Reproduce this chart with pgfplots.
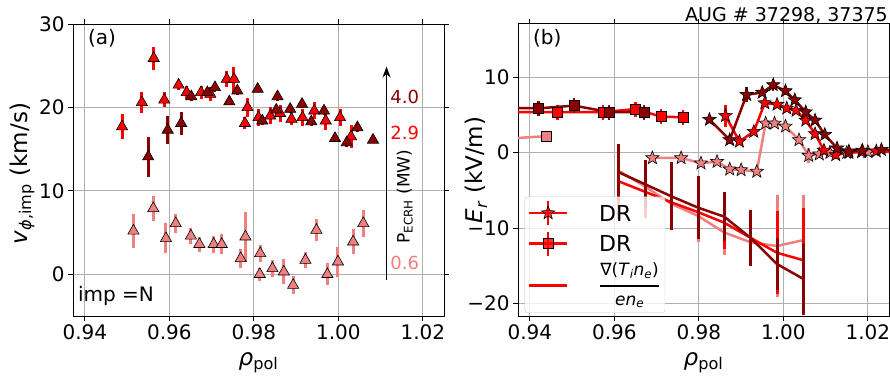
\documentclass[border=0pt]{standalone}
\usepackage{pgfplots}
\pgfplotsset{compat=1.18}
\usepackage{fontspec}
\setmainfont{DejaVu Sans}
\usetikzlibrary{arrows.meta}
\definecolor{dred}{RGB}{139,0,0}
\definecolor{lcor}{RGB}{240,128,128}
\definecolor{gridc}{RGB}{176,176,176}
\newcommand{\fs}[1]{\fontsize{#1bp}{#1bp}\selectfont}
\pgfdeclareplotmark{fstar}{%
  \pgfpathmoveto{\pgfqpointpolar{90}{\pgfplotmarksize}}%
  \pgfpathlineto{\pgfqpointpolar{126}{0.42\pgfplotmarksize}}%
  \pgfpathlineto{\pgfqpointpolar{162}{\pgfplotmarksize}}%
  \pgfpathlineto{\pgfqpointpolar{198}{0.42\pgfplotmarksize}}%
  \pgfpathlineto{\pgfqpointpolar{234}{\pgfplotmarksize}}%
  \pgfpathlineto{\pgfqpointpolar{270}{0.42\pgfplotmarksize}}%
  \pgfpathlineto{\pgfqpointpolar{306}{\pgfplotmarksize}}%
  \pgfpathlineto{\pgfqpointpolar{342}{0.42\pgfplotmarksize}}%
  \pgfpathlineto{\pgfqpointpolar{18}{\pgfplotmarksize}}%
  \pgfpathlineto{\pgfqpointpolar{54}{0.42\pgfplotmarksize}}%
  \pgfpathclose\pgfusepathqfillstroke}
\pgfplotsset{
  base/.style={
    scale only axis, width=371bp, height=292bp,
    xmin=0.9372, xmax=1.025, enlargelimits=false,
    xtick={0.94,0.96,0.98,1.00,1.02},
    xticklabels={0.94,0.96,0.98,1.00,1.02},
    grid=major, major grid style={gridc, line width=0.8bp},
    tick align=outside, major tick length=5bp,
    tick style={black, line width=0.8bp},
    axis line style={line width=1bp},
    ticklabel style={font=\fs{20}},
    every axis x label/.style={at={(axis description cs:0.5,-0.16)}, anchor=center, font=\fs{23}},
    every axis y label/.style={rotate=90, anchor=center, font=\fs{23}},
    xlabel={\textit{ρ}\textsubscript{pol}},
  },
  tri/.style={forget plot, only marks, mark=triangle*, mark size=6.5bp,
    mark options={fill=#1, draw=black, line width=0.6bp},
    error bars/.cd, y dir=both, y explicit, error mark=none,
    error bar style={#1, line width=3bp}},
  lin/.style n args={3}{forget plot, #1, line width=2.5bp, mark=#2,
    mark size=#3, mark options={fill=#1, draw=black, line width=0.6bp, solid},
    error bars/.cd, y dir=both, y explicit, error mark=none,
    error bar style={#1, line width=2.5bp}},
  grad/.style={forget plot, #1, line width=2.5bp, mark=none,
    error bars/.cd, y dir=both, y explicit, error mark=none,
    error bar style={#1, line width=3bp}},
  starleg/.style={legend image code/.code={
    \path[draw=none, fill=none] (0bp,-13bp) rectangle (68bp,13bp);
    \draw[red, line width=2.5bp, fill=none] (0bp,0bp) -- (38bp,0bp);
    \draw[red, line width=2.5bp, fill=none] (19bp,-12bp) -- (19bp,12bp);
    \draw[mark=fstar, mark size=7bp, mark options={fill=red, draw=black, line width=0.6bp}] plot coordinates {(19bp,0bp)};}},
  sqleg/.style={legend image code/.code={
    \path[draw=none, fill=none] (0bp,-13bp) rectangle (68bp,13bp);
    \draw[red, line width=2.5bp, fill=none] (0bp,0bp) -- (38bp,0bp);
    \draw[red, line width=2.5bp, fill=none] (19bp,-12bp) -- (19bp,12bp);
    \draw[mark=square*, mark size=5bp, mark options={fill=red, draw=black, line width=0.6bp}] plot coordinates {(19bp,0bp)};}},
  lineleg/.style={legend image code/.code={
    \path[draw=none, fill=none] (0bp,-13bp) rectangle (68bp,13bp);
    \draw[red, line width=2.5bp, fill=none] (0bp,0bp) -- (38bp,0bp);}},
}
\begin{document}
\begin{tikzpicture}[x=1bp,y=1bp]
\useasboundingbox (0,0) rectangle (890,375);
% ---------------- panel (a)
\begin{axis}[base, at={(73bp,59bp)}, anchor=south west,
  ymin=-5, ymax=30, ytick={0,10,20,30}, yticklabels={0,10,20,30},
  ylabel={\textit{v}\textsubscript{\textit{ϕ},imp} (km/s)},
  ylabel style={at={(axis description cs:-0.137,0.488)}}]
\addplot[tri=lcor] table[x index=0,y index=1,y error index=2] {
0.9515 5.2 2.0
0.9562 7.9 1.5
0.9592 4.3 1.8
0.9615 6.1 1.1
0.9651 4.6 1.0
0.9671 3.6 0.9
0.9705 3.6 1.0
0.9724 3.6 1.2
0.9769 1.9 1.1
0.9780 4.5 3.0
0.9815 2.5 1.0
0.9814 0.0 0.8
0.9844 0.7 1.0
0.9871 0.3 1.5
0.9893 -1.3 1.1
0.9922 1.7 1.0
0.9948 5.3 1.3
0.9974 0.0 1.3
0.9999 1.5 1.8
1.0035 3.9 1.5
1.0059 6.1 1.6
};
\addplot[tri=red] table[x index=0,y index=1,y error index=2] {
0.9488 17.7 1.5
0.9535 20.6 1.3
0.9563 25.9 1.4
0.9588 20.9 0.9
0.9622 22.7 0.6
0.9641 21.8 0.8
0.9675 21.8 0.8
0.9697 21.6 0.8
0.9736 23.4 1.0
0.9753 23.4 1.5
0.9779 18.1 0.7
0.9785 20.0 1.1
0.9811 18.8 1.0
0.9839 19.0 1.0
0.9862 19.3 1.0
0.9889 18.6 0.7
0.9915 18.8 1.0
0.9943 19.6 1.0
0.9970 18.4 1.1
1.0004 18.8 1.0
1.0030 16.5 1.4
};
\addplot[tri=dred] table[x index=0,y index=1,y error index=2] {
0.9550 14.1 2.4
0.9596 17.3 1.7
0.9628 18.1 1.4
0.9652 21.3 0.5
0.9690 21.8 0.5
0.9708 22.4 0.5
0.9742 20.7 0.4
0.9761 22.0 0.5
0.9809 22.2 0.4
0.9820 18.4 0.5
0.9853 19.7 0.5
0.9856 21.3 0.5
0.9886 19.8 0.5
0.9914 20.4 0.5
0.9936 18.3 0.5
0.9966 19.6 0.5
0.9992 16.3 0.5
1.0020 15.8 0.5
1.0045 17.6 0.5
1.0082 16.1 0.4
};
\draw[-{Stealth[length=11bp,width=8bp]}, line width=1.5bp] (axis cs:1.0114,-0.7) -- (axis cs:1.0114,24.9);
\node[dred, font=\fs{18}] at (axis cs:1.0157,21.2) {\fs{18}4.0};
\node[red, font=\fs{18}] at (axis cs:1.0157,17.0) {\fs{18}2.9};
\node[lcor, font=\fs{18}] at (axis cs:1.0157,1.3) {\fs{18}0.6};
\node[rotate=90, font=\fs{17}] at (axis cs:1.0157,9.3) {\fs{17}P\textsubscript{ECRH} (MW)};
\node[anchor=west, font=\fs{20}, inner sep=0] at (rel axis cs:0.04,0.952) {\fs{20}(a)};
\node[anchor=west, font=\fs{20}, inner sep=0] at (rel axis cs:0.013,0.07) {\fs{20}imp =N};
\end{axis}
% ---------------- panel (b)
\begin{axis}[base, at={(518bp,59bp)}, anchor=south west,
  ymin=-21.7, ymax=17.1, ytick={-20,-10,0,10}, yticklabels={−20,−10,0,10},
  ylabel={\textit{E}\raisebox{-0.35ex}{\fs{16}\textit{r}} (kV/m)},
  ylabel style={at={(axis description cs:-0.113,0.5)}},
  legend style={at={(0.018,0.01)}, anchor=south west, draw=black!22,
    fill=white, fill opacity=0.8, text opacity=1, rounded corners=3bp,
    font=\fs{22}, row sep=4bp, inner sep=3bp, nodes={text depth=}},
  legend cell align=left]
% squares
\addplot[lin={lcor}{square*}{5bp}] table[x index=0,y index=1,y error index=2] {
0.9300 1.7 0
0.9440 2.2 0.3
};
\addplot[lin={red}{square*}{5bp}] table[x index=0,y index=1,y error index=2] {
0.9300 5.4 0
0.9466 5.4 1.0
0.9573 5.4 1.0
0.9650 5.8 1.0
0.9710 4.8 1.0
0.9763 4.7 1.0
};
\addplot[lin={dred}{square*}{5bp}] table[x index=0,y index=1,y error index=2] {
0.9300 6.0 0
0.9421 5.9 1.0
0.9505 6.25 1.0
0.9587 5.4 1.0
0.9670 5.4 1.0
};
% stars
\addplot[lin={lcor}{fstar}{7bp}] table[x index=0,y index=1,y error index=2] {
0.9690 -0.7 0.3
0.9758 -0.7 0.3
0.9805 -1.4 0.3
0.9843 -1.2 0.3
0.9873 -2.2 0.3
0.9900 -2.3 0.3
0.9937 -2.5 0.3
0.9958 3.9 0.5
0.9979 3.9 0.5
1.0005 3.5 0.5
1.0037 1.7 0.5
1.0060 -0.4 1.0
1.0085 -0.2 0.3
1.0110 0.0 0.3
1.0150 0.0 0.3
1.0200 0.1 0.3
1.0260 0.1 0.3
};
\addplot[lin={red}{fstar}{7bp}] table[x index=0,y index=1,y error index=2] {
0.9863 4.9 1.5
0.9896 1.5 0.5
0.9930 2.8 0.5
0.9956 6.6 0.5
0.9985 6.4 0.5
1.0008 5.9 0.5
1.0030 5.6 0.5
1.0053 4.3 0.5
1.0075 2.5 0.5
1.0096 0.3 0.5
1.0124 -0.3 0.5
1.0155 0.0 0.3
1.0185 0.1 0.3
1.0220 0.2 0.3
1.0260 0.1 0.3
};
\addplot[lin={dred}{fstar}{7bp}] table[x index=0,y index=1,y error index=2] {
0.9825 4.4 0.5
0.9873 1.7 0.5
0.9913 7.7 1.0
0.9950 8.0 0.5
0.9976 9.0 0.8
1.0005 8.2 0.5
1.0027 7.0 0.5
1.0053 5.4 0.5
1.0075 4.3 0.5
1.0098 2.4 0.5
1.0127 0.6 0.4
1.0155 0.2 0.3
1.0187 0.3 0.3
1.0232 0.4 0.3
1.0270 0.3 0.3
};
% gradient estimates
\addplot[grad=lcor] table[x index=0,y index=1,y error index=2] {
0.9610 -2.4 3.5
0.9673 -4.5 3.2
0.9735 -6.8 3.5
0.9798 -8.4 3.5
0.9860 -10.6 3.0
0.9922 -11.9 3.0
0.9985 -12.4 6.8
1.0048 -11.6 6.0
};
\addplot[grad=red] table[x index=0,y index=1,y error index=2] {
0.9610 -3.8 5.0
0.9673 -5.2 3.5
0.9735 -6.6 3.5
0.9798 -7.9 3.5
0.9860 -9.3 3.5
0.9922 -11.3 3.5
0.9985 -13.3 5.5
1.0048 -14.3 7.0
};
\addplot[grad=dred] table[x index=0,y index=1,y error index=2] {
0.9610 -2.6 3.8
0.9673 -4.2 3.2
0.9735 -5.8 4.5
0.9798 -7.3 4.2
0.9860 -8.5 3.3
0.9922 -11.3 3.7
0.9985 -14.8 3.5
1.0048 -16.8 4.8
};
\addlegendimage{starleg}
\addlegendentry{\fs{22}DR}
\addlegendimage{sqleg}
\addlegendentry{\fs{22}DR}
\addlegendimage{lineleg}
\addlegendentry{$\displaystyle{\hbox{\fs{17}∇(\textit{T}\textsubscript{\textit{i}}\textit{n}\textsubscript{\textit{e}})}\above 2bp\hbox{\fs{17}\textit{en}\textsubscript{\textit{e}}}}$}
\node[anchor=west, font=\fs{20}, inner sep=0] at (rel axis cs:0.04,0.952) {\fs{20}(b)};
\end{axis}
\node[anchor=base east, inner sep=0] at (888,354) {\fs{19}AUG \# 37298, 37375};
\end{tikzpicture}
\end{document}
